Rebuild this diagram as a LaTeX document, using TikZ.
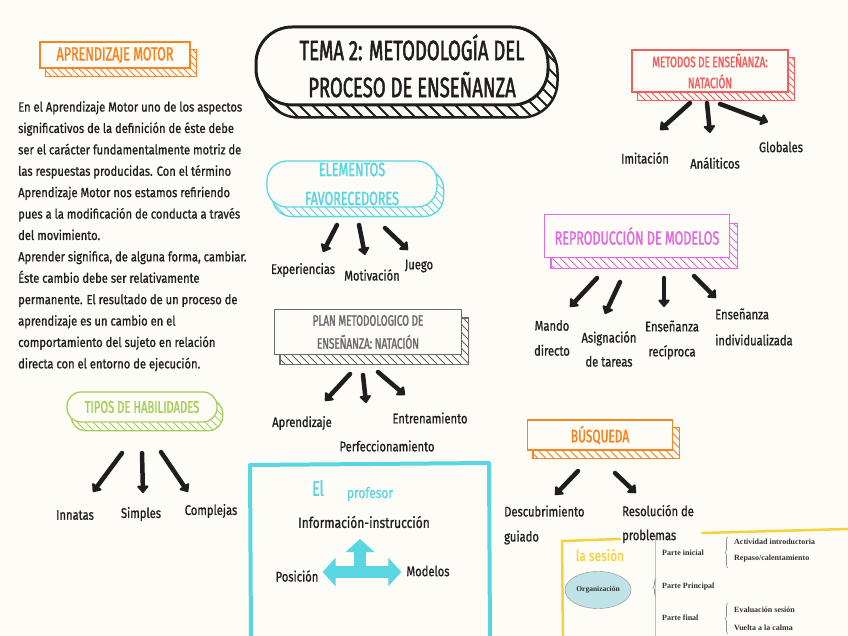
\documentclass[tikz,border=0pt]{standalone}
\usepackage{fontspec}
\setmainfont{Fira Sans}
\newfontfamily\hand[FakeStretch=0.8,FakeBold=0.9]{Fira Sans}
\newfontfamily\parafont[FakeStretch=0.84,FakeBold=0.9]{Fira Sans}
\newfontfamily\capsf[FakeStretch=0.66,FakeBold=1.6]{Fira Sans}
\newfontfamily\serifb{Liberation Serif}
\usetikzlibrary{arrows.meta,calc,shapes.geometric,decorations.pathreplacing}
\pgfdeclarelayer{bglayer}\pgfdeclarelayer{back}
\pgfsetlayers{bglayer,back,main}
\definecolor{paper}{HTML}{FDFCF6}
\definecolor{ink}{HTML}{1E1E1E}
\definecolor{orng}{HTML}{F7841F}
\definecolor{redd}{HTML}{F25D5D}
\definecolor{cyn}{HTML}{5AD5E2}
\definecolor{mag}{HTML}{E06BE0}
\definecolor{gry}{HTML}{6A6A6A}
\definecolor{grn}{HTML}{A5CF5A}
\definecolor{ylw}{HTML}{F6D23C}
\definecolor{orgfill}{HTML}{BEE2E6}
% #1 node, #2 colour, #3 corner option, #4 dx, #5 dy, #6 outline width, #7 hatch spacing
\newcommand\extrude[7]{%
\begin{pgfonlayer}{back}
 \path (#1.north west) coordinate (eA) (#1.south east) coordinate (eB);
 \begin{scope}
  \path[clip,#3] ($(eA)+(#4,#5)$) rectangle ($(eB)+(#4,#5)$);
  \foreach \k in {0,...,80}{\draw[#2,line width=0.8*#6] ($(eA)+(\k*#7-200,-100)$) -- ++(200,200);}
 \end{scope}
 \draw[#2,line width=#6,#3] ($(eA)+(#4,#5)$) rectangle ($(eB)+(#4,#5)$);
\end{pgfonlayer}}
\tikzset{
 frontbox/.style={draw=#1, text=#1, line width=1.3pt, fill=paper, inner sep=0pt, align=center},
 lbl/.style={text=ink, inner sep=1pt, align=center, font=\hand\fontsize{14}{25}\selectfont},
 arr/.style={ink, line width=4.5pt, line cap=round, -{Triangle[length=8pt,width=13pt,round]}},
 crossarr/.style={cyn, line width=12pt},
 sesfont/.style={text=black!80, anchor=west, inner sep=0pt, font=\serifb\bfseries\fontsize{8}{9}\selectfont},
 brc/.style={black!45, line width=0.6pt, decorate, decoration={brace, amplitude=3pt}}
}
\begin{document}
\begin{tikzpicture}[x=1pt,y=-1pt]
\begin{pgfonlayer}{bglayer}
\fill[paper] (0,0) rectangle (848,636);
\end{pgfonlayer}
\useasboundingbox (0,0) rectangle (848,636);

% ---------- title
\node[draw=ink, line width=3pt, fill=paper, rounded corners=36pt, minimum width=292pt, minimum height=78pt] (title) at (402,66) {};
\extrude{title}{ink}{rounded corners=36pt}{8}{11}{2.5pt}{13}
\node[text=ink, align=center, font=\capsf\fontsize{28}{37}\selectfont] (titletext) at (412,66) {TEMA 2: METODOLOGÍA DEL\\PROCESO DE ENSEÑANZA};

% ---------- aprendizaje motor
\node[frontbox=orng, minimum width=150pt, minimum height=26pt, font=\capsf\fontsize{19}{19}\selectfont] (am) at (115,55) {APRENDIZAJE MOTOR};
\extrude{am}{orng}{sharp corners}{6}{8}{1.3pt}{7}
\node[anchor=north west, inner sep=0pt, align=left, text=ink, font=\parafont\fontsize{13.3}{21.4}\selectfont] (para) at (18,101) {En el Aprendizaje Motor uno de los aspectos\\
significativos de la definición de éste debe\\
ser el carácter fundamentalmente motriz de\\
las respuestas producidas. Con el término\\
Aprendizaje Motor nos estamos refiriendo\\
pues a la modificación de conducta a través\\
del movimiento.\\
Aprender significa, de alguna forma, cambiar.\\
Éste cambio debe ser relativamente\\
permanente. El resultado de un proceso de\\
aprendizaje es un cambio en el\\
comportamiento del sujeto en relación\\
directa con el entorno de ejecución.};

% ---------- metodos
\node[frontbox=redd, minimum width=156pt, minimum height=42pt, font=\capsf\fontsize{15}{21}\selectfont] (mt) at (710,71) {METODOS DE ENSEÑANZA:\\NATACIÓN};
\extrude{mt}{redd}{sharp corners}{6}{8}{1.2pt}{7}
\node[lbl] (imit) at (645,158) {Imitación};
\node[lbl] (anal) at (715,163) {Análiticos};
\node[lbl] (glob) at (781,147) {Globales};
\draw[arr] ($(mt.center)+(-20,32)$) -- ($(imit.center)+(15,-28)$);
\draw[arr] ($(mt.center)+(-3,32)$) -- ($(anal.center)+(-5,-30)$);
\draw[arr] ($(mt.center)+(10,33)$) -- ($(glob.center)+(-13,-25)$);

% ---------- elementos
\node[frontbox=cyn, rounded corners=20pt, minimum width=170pt, minimum height=46pt, font=\capsf\fontsize{19}{29}\selectfont] (el) at (352,184) {ELEMENTOS\\FAVORECEDORES};
\extrude{el}{cyn}{rounded corners=20pt}{6}{9}{1.3pt}{8}
\node[lbl] (exp) at (303,270) {Experiencias};
\node[lbl] (mot) at (372,275) {Motivación};
\node[lbl] (jue) at (419,266) {Juego};
\draw[arr] ($(el.center)+(-15,41)$) -- ($(exp.center)+(20,-18)$);
\draw[arr] ($(el.center)+(7,41)$) -- ($(mot.center)+(-7,-20)$);
\draw[arr] ($(el.center)+(33,44)$) -- ($(jue.center)+(-11,-16)$);

% ---------- reproduccion
\node[frontbox=mag, minimum width=185pt, minimum height=43pt, font=\capsf\fontsize{19}{19}\selectfont] (rm) at (637,236) {REPRODUCCIÓN DE MODELOS};
\extrude{rm}{mag}{sharp corners}{7}{10}{1.3pt}{8}
\node[lbl] (man) at (552,338) {Mando\\directo};
\node[lbl,font=\hand\fontsize{14}{24}\selectfont] (asi) at (609,349) {Asignación\\de tareas};
\node[lbl] (rec) at (672,340) {Enseñanza\\recíproca};
\node[lbl, anchor=west, align=left, font=\hand\fontsize{14}{26}\selectfont] (ind) at (714,327) {Enseñanza\\individualizada};
\draw[arr] ($(rm.center)+(-40,42)$) -- ($(man.center)+(18,-31)$);
\draw[arr] ($(rm.center)+(-17,46)$) -- ($(asi.center)+(-4,-35)$);
\draw[arr] ($(rm.center)+(27,42)$) -- ($(rec.center)+(-8,-33)$);
\draw[arr] ($(rm.center)+(57,40)$) -- ($(ind.west)+(2,-29)$);

% ---------- plan
\node[frontbox=gry, minimum width=187pt, minimum height=45pt, font=\capsf\fontsize{15}{23}\selectfont] (pl) at (368,332) {PLAN METODOLOGICO DE\\ENSEÑANZA: NATACIÓN};
\extrude{pl}{gry}{sharp corners}{6}{9}{1.3pt}{8}
\node[lbl] (apr) at (302,423) {Aprendizaje};
\node[lbl] (per) at (387,446) {Perfeccionamiento};
\node[lbl] (ent) at (430,418) {Entrenamiento};
\draw[arr] ($(pl.center)+(-18,42)$) -- ($(apr.center)+(23,-22)$);
\draw[arr] ($(pl.center)+(-5,43)$) -- ($(per.center)+(-21,-43)$);
\draw[arr] ($(pl.center)+(10,40)$) -- ($(ent.center)+(-25,-23)$);

% ---------- tipos
\node[frontbox=grn, rounded corners=14pt, minimum width=150pt, minimum height=30pt, font=\capsf\fontsize{17}{17}\selectfont] (th) at (142,407) {TIPOS DE HABILIDADES};
\extrude{th}{grn}{rounded corners=14pt}{5}{8}{1.3pt}{8}
\node[lbl] (inn) at (75,515) {Innatas};
\node[lbl] (sim) at (141,514) {Simples};
\node[lbl] (com) at (211,511) {Complejas};
\draw[arr] ($(th.center)+(-20,46)$) -- ($(inn.center)+(18,-23)$);
\draw[arr] ($(th.center)+(0,46)$) -- ($(sim.center)+(2,-21)$);
\draw[arr] ($(th.center)+(19,45)$) -- ($(com.center)+(-23,-19)$);

% ---------- busqueda
\node[frontbox=orng, minimum width=145pt, minimum height=30pt, font=\capsf\fontsize{18}{18}\selectfont] (bu) at (600,435) {BÚSQUEDA};
\extrude{bu}{orng}{sharp corners}{6}{8}{1.3pt}{8}
\node[lbl, anchor=west, align=left] (des) at (503,525) {Descubrimiento\\guiado};
\node[lbl, anchor=west, align=left, font=\hand\fontsize{14}{24}\selectfont] (res) at (621,524) {Resolución de\\problemas};
\draw[arr] ($(bu.center)+(-22,36)$) -- ($(des.west)+(52,-30)$);
\draw[arr] ($(bu.center)+(15,38)$) -- ($(res.west)+(15,-31)$);

% ---------- el profesor
\draw[cyn, line width=4pt, line join=round] (251,640) -- (250,465) -- (489,463) -- (490,640);
\node[text=cyn, font=\capsf\fontsize{21}{21}\selectfont] (elp) at (318,488) {El};
\node[text=cyn, font=\hand\fontsize{15}{15}\selectfont] (prof) at (370,494) {profesor};
\node[lbl, font=\hand\fontsize{15}{15}\selectfont] (info) at (364,522) {Información-instrucción};
\node[lbl] (pos) at (297,576) {Posición};
\node[lbl] (mod) at (428,571) {Modelos};
\coordinate (xc) at (360,572);
\draw[crossarr, {Triangle[length=13pt,width=28pt]}-{Triangle[length=13pt,width=28pt]}] ($(pos.east)+(3,-4)$) -- ($(mod.west)+(-4,1)$);
\draw[crossarr, -{Triangle[length=13pt,width=28pt]}] (xc) -- ($(info.center)+(-4,17)$);

% ---------- la sesion
\draw[black!25, line width=0.6pt] (655,535) -- (655,636);
\draw[ylw, line width=2.5pt, line cap=round] (563,636) -- (562,541) -- (620,539);
\draw[ylw, line width=2.5pt, line cap=round] (702,533) -- (848,529);
\node[text=ylw, font=\hand\fontsize{15}{15}\selectfont] (ses) at (600,555) {la sesión};
\node[ellipse, draw=black!45, fill=orgfill, minimum width=66pt, minimum height=37pt, inner sep=0pt, text=black!80, font=\serifb\bfseries\fontsize{7.5}{8}\selectfont] (org) at (598,590) {Organización};
\node[sesfont] (pi) at (662,553) {Parte inicial};
\node[sesfont] (pp) at (662,587) {Parte Principal};
\node[sesfont] (pf) at (662,618) {Parte final};
\node[sesfont] (act) at (734,542) {Actividad introductoria};
\node[sesfont] (rep) at (734,559) {Repaso/calentamiento};
\node[sesfont] (eva) at (734,610) {Evaluación sesión};
\node[sesfont] (vue) at (734,628) {Vuelta a la calma};
\draw[brc] (728,568) -- (728,537);
\draw[brc] (728,634) -- (728,603);
\draw[brc] (656,596) -- (656,579);
\end{tikzpicture}
\end{document}
